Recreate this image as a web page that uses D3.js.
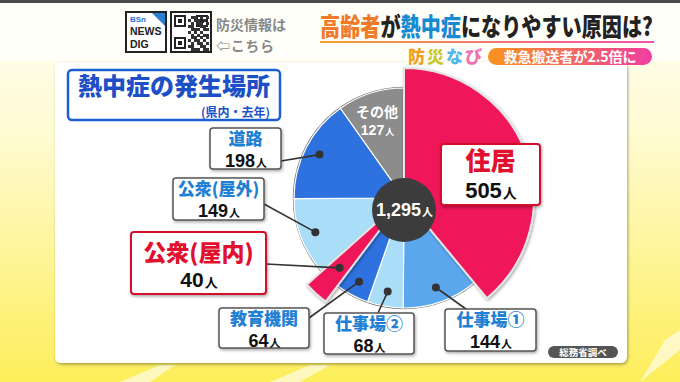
<!DOCTYPE html>
<html>
<head>
<meta charset="utf-8">
<script src="https://cdn.jsdelivr.net/npm/d3@7"></script>
<style>
  body { margin: 0; background: #fff; }
  svg { display: block; font-family: "Noto Sans CJK JP", "Noto Sans", sans-serif; }
</style>
</head>
<body>
<svg id="chart" width="680" height="382"></svg>
<script>
// data
const categories = ["住居", "仕事場①", "仕事場②", "教育機関", "公衆(屋内)", "公衆(屋外)", "道路", "その他"];
const values = [505, 144, 68, 64, 40, 149, 198, 127];
const total = 1295;
const chartTitle = "熱中症の発生場所";
const chartSub = "(県内・去年)";

const colors = ["#f0165a", "#5ba7ee", "#a9ddf8", "#2e72df", "#f0165a", "#a9ddf8", "#2e72df", "#8c8c8c"];
const highlight = ["住居", "公衆(屋内)"];

// label boxes (layout)
const boxes = {
  "住居":     { x: 441, y: 144, w: 99, h: 61, big: true },
  "仕事場①":  { x: 445, y: 309, w: 91, h: 42, ax: 466, ay: 309 },
  "仕事場②":  { x: 324, y: 313, w: 90, h: 41, ax: 378, ay: 313 },
  "教育機関": { x: 219, y: 308, w: 90, h: 40, ax: 309, ay: 318 },
  "公衆(屋内)": { x: 131, y: 232, w: 135, h: 62, ax: 266, ay: 264, red: true },
  "公衆(屋外)": { x: 173, y: 178, w: 91, h: 42, ax: 264, ay: 204 },
  "道路":     { x: 210, y: 128, w: 71, h: 41, ax: 281, ay: 161 }
};

const svg = d3.select("#chart");
const defs = svg.append("defs");

const bg = defs.append("linearGradient").attr("id", "bg").attr("x1", 0).attr("y1", 0).attr("x2", 0).attr("y2", 1);
bg.append("stop").attr("offset", "0%").attr("stop-color", "#fffef6");
bg.append("stop").attr("offset", "35%").attr("stop-color", "#fffbd2");
bg.append("stop").attr("offset", "100%").attr("stop-color", "#fdee5a");

const ul = defs.append("linearGradient").attr("id", "ul");
ul.append("stop").attr("offset", "0%").attr("stop-color", "#f5a030");
ul.append("stop").attr("offset", "100%").attr("stop-color", "#f050b0");

const pill = defs.append("linearGradient").attr("id", "pill");
pill.append("stop").attr("offset", "0%").attr("stop-color", "#f7941d");
pill.append("stop").attr("offset", "100%").attr("stop-color", "#ef3fa0");

const sh = defs.append("filter").attr("id", "sh").attr("x", "-20%").attr("y", "-20%").attr("width", "140%").attr("height", "140%");
sh.append("feDropShadow").attr("dx", 1).attr("dy", 1.5).attr("stdDeviation", 1.5).attr("flood-color", "#000").attr("flood-opacity", 0.35);

const latin = "'Liberation Sans', Arial, sans-serif";

// number followed by a smaller 人, centred on x
function countText(parent, x, y, n, size, fill) {
  const g = parent.append("g");
  const num = g.append("text").attr("y", y).attr("font-family", latin)
    .attr("font-size", size).attr("font-weight", 700).attr("fill", fill).text(n);
  const unit = g.append("text").attr("y", y).attr("font-size", Math.round(size * 0.62)).attr("font-weight", 700).attr("fill", fill).text("人");
  const w1 = num.node().getComputedTextLength(), w2 = unit.node().getComputedTextLength();
  const x0 = x - (w1 + w2) / 2;
  num.attr("x", x0);
  unit.attr("x", x0 + w1 + 1);
  return g;
}

// background
svg.append("rect").attr("width", 680).attr("height", 382).attr("fill", "url(#bg)");
svg.append("rect").attr("width", 680).attr("height", 3).attr("fill", "#4a4a4a");
svg.append("rect").attr("y", 3).attr("width", 680).attr("height", 58).attr("fill", "#fffef8");
[[120, 382, 160, 365, 175, 365, 150, 382], [270, 382, 310, 365, 330, 365, 300, 382], [640, 382, 665, 340, 680, 330, 680, 350]]
  .forEach(p => svg.append("polygon").attr("points", p.join(",")).attr("fill", "#fff").attr("opacity", 0.6));

// main panel
svg.append("rect").attr("x", 55).attr("y", 62).attr("width", 572).attr("height", 301).attr("rx", 6)
  .attr("fill", "#fff").attr("filter", "url(#sh)");

// header: logo
const logo = svg.append("g");
logo.append("rect").attr("x", 126).attr("y", 12).attr("width", 40).attr("height", 40).attr("fill", "#fff").attr("stroke", "#222").attr("stroke-width", 2);
logo.append("path").attr("d", "M152,13 L165,26 L165,13 Z").attr("fill", "#2a7fd0");
logo.append("text").attr("x", 130).attr("y", 22).attr("font-family", latin).attr("font-size", 8).attr("font-weight", 700).attr("fill", "#2a6fd0").text("BSn");
logo.append("text").attr("x", 130).attr("y", 35).attr("font-family", latin).attr("font-size", 10.5).attr("font-weight", 700).attr("fill", "#222").text("NEWS");
logo.append("text").attr("x", 130).attr("y", 48).attr("font-family", latin).attr("font-size", 10.5).attr("font-weight", 700).attr("fill", "#222").text("DIG");

// header: qr
const qr = svg.append("g").attr("transform", "translate(171,12)");
qr.append("rect").attr("width", 40).attr("height", 40).attr("fill", "#fff").attr("stroke", "#222").attr("stroke-width", 2);
[[4, 4], [26, 4], [4, 26]].forEach(([x, y]) => {
  qr.append("rect").attr("x", x).attr("y", y).attr("width", 10).attr("height", 10).attr("fill", "none").attr("stroke", "#222").attr("stroke-width", 2);
  qr.append("rect").attr("x", x + 3).attr("y", y + 3).attr("width", 4).attr("height", 4).attr("fill", "#222");
});
const qrBits = ["0110101", "1011010", "0101101", "1100110", "0111011", "1010100", "0101011"];
qrBits.forEach((row, i) => row.split("").forEach((b, j) => {
  if (b === "1") qr.append("rect").attr("x", 17 + j * 3).attr("y", 4 + i * 3).attr("width", 3).attr("height", 3).attr("fill", "#333");
  if (b === "1" && i < 5) qr.append("rect").attr("x", 17 + j * 3).attr("y", 24 + i * 3).attr("width", 3).attr("height", 3).attr("fill", "#333");
}));
svg.append("text").attr("x", 216).attr("y", 30).attr("font-size", 14).attr("font-weight", 700).attr("fill", "#888").attr("textLength", 70).text("防災情報は");
svg.append("text").attr("x", 216).attr("y", 51).attr("font-size", 14).attr("font-weight", 700).attr("fill", "#888").attr("textLength", 58).text("⇦こちら");

// header: title, squeezed horizontally like the broadcast font
const titleParts = [["高齢者", "#f07a26"], ["が", "#222"], ["熱中症", "#168ad2"], ["になりやすい原因は?", "#222"]];
const tg = svg.append("g");
let tx = 0;
titleParts.forEach(([s, f]) => {
  const t = tg.append("text").attr("x", tx).attr("y", 0).attr("font-size", 25).attr("font-weight", 900).attr("fill", f).text(s);
  tx += t.node().getComputedTextLength();
});
tg.attr("transform", `translate(320,36) scale(${333 / tx},1)`);
svg.append("rect").attr("x", 320).attr("y", 41).attr("width", 334).attr("height", 2).attr("fill", "url(#ul)");

const naviG = svg.append("g");
[["防", "#f0a020"], ["災", "#c8c830"], ["な", "#50b8e8"], ["び", "#f070b0"]].forEach(([c, f], i) =>
  naviG.append("text").attr("x", 408 + i * 19).attr("y", 63).attr("font-size", 17).attr("font-weight", 900)
    .attr("stroke", "#fff").attr("stroke-width", 0.8).attr("paint-order", "stroke").attr("fill", f).text(c));

svg.append("rect").attr("x", 488).attr("y", 48).attr("width", 164).attr("height", 17).attr("rx", 8.5).attr("fill", "url(#pill)");
svg.append("text").attr("x", 570).attr("y", 61.5).attr("text-anchor", "middle").attr("font-size", 14).attr("font-weight", 700)
  .attr("fill", "#fff").text("救急搬送者が2.5倍に");

// chart title box
svg.append("rect").attr("x", 68).attr("y", 70).attr("width", 212).attr("height", 50).attr("rx", 4)
  .attr("fill", "#fff").attr("stroke", "#1d5fd2").attr("stroke-width", 2.5);
svg.append("text").attr("x", 174).attr("y", 95).attr("text-anchor", "middle").attr("font-size", 24).attr("font-weight", 900)
  .attr("fill", "#1d4fc6").text(chartTitle);
svg.append("text").attr("x", 270).attr("y", 116.5).attr("text-anchor", "end").attr("font-size", 12).attr("font-weight", 700)
  .attr("fill", "#1d4fc6").text(chartSub);

// pie
const cx = 404, cy = 198;
const rNormal = 110, rBig = 130;
const slices = d3.pie().sort(null).value(d => d.value)
  (categories.map((c, i) => ({ name: c, value: values[i], color: colors[i] })));

const arcFor = d => d3.arc().innerRadius(0).outerRadius(highlight.includes(d.data.name) ? rBig : rNormal);

const pie = svg.append("g").attr("transform", `translate(${cx},${cy})`);
pie.append("circle").attr("r", rNormal + 0.5).attr("fill", "none").attr("stroke", "#777").attr("stroke-width", 1.5);
pie.selectAll("path.norm")
  .data(slices.filter(d => !highlight.includes(d.data.name)))
  .join("path")
  .attr("class", "norm")
  .attr("d", d => arcFor(d)(d))
  .attr("fill", d => d.data.color)
  .attr("stroke", "#fff").attr("stroke-width", 1.2);
pie.selectAll("path.hi")
  .data(slices.filter(d => highlight.includes(d.data.name)))
  .join("path")
  .attr("class", "hi")
  .attr("d", d => arcFor(d)(d))
  .attr("fill", d => d.data.color)
  .attr("stroke", "#e4e4e4").attr("stroke-width", 2)
  .attr("filter", "url(#sh)");

// その他 label inside its slice
const other = slices[7];
pie.append("text").attr("x", -27).attr("y", -81).attr("text-anchor", "middle").attr("font-size", 14).attr("font-weight", 700)
  .attr("fill", "#fff").text(other.data.name);
countText(pie, -27, -63, other.data.value, 14, "#fff");

// leader lines and dots
const dotArc = d3.arc().innerRadius(95).outerRadius(95);
slices.forEach(d => {
  const b = boxes[d.data.name];
  if (!b || b.big) return;
  const [dx, dy] = dotArc.centroid(d);
  svg.append("line").attr("x1", b.ax).attr("y1", b.ay).attr("x2", cx + dx).attr("y2", cy + dy)
    .attr("stroke", "#333").attr("stroke-width", 1.6);
  svg.append("circle").attr("cx", cx + dx).attr("cy", cy + dy).attr("r", 4).attr("fill", "#333");
});

// center circle
svg.append("circle").attr("cx", cx).attr("cy", cy + 12).attr("r", 32).attr("fill", "#3c3c3c");
countText(svg, cx, cy + 18, d3.format(",")(total), 18, "#fff");

// label boxes
slices.forEach(d => {
  const b = boxes[d.data.name];
  if (!b) return;
  const red = b.big || b.red;
  const g = svg.append("g");
  g.append("rect").attr("x", b.x).attr("y", b.y).attr("width", b.w).attr("height", b.h).attr("rx", 3)
    .attr("fill", "#fff").attr("stroke", red ? "#d4102c" : "#555").attr("stroke-width", red ? 2 : 1.5)
    .attr("filter", "url(#sh)");
  const mx = b.x + b.w / 2;
  const nameSize = b.big ? 25 : (b.red ? 23 : 17);
  const numSize = b.big ? 22 : (b.red ? 21 : 18);
  g.append("text").attr("x", mx).attr("y", b.y + (b.big ? 26 : b.red ? 29 : 17))
    .attr("text-anchor", "middle").attr("font-size", nameSize).attr("font-weight", 900)
    .attr("fill", red ? "#e0102e" : "#1f80d4").text(d.data.name);
  countText(g, mx, b.y + (b.big ? 54 : b.red ? 55 : 38.5), d.data.value, numSize, "#111");
});

// source pill
svg.append("rect").attr("x", 548).attr("y", 346).attr("width", 70).attr("height", 12).attr("rx", 6).attr("fill", "#555");
svg.append("text").attr("x", 583).attr("y", 355.5).attr("text-anchor", "middle").attr("font-size", 9.5).attr("font-weight", 700)
  .attr("fill", "#fff").text("総務省調べ");
</script>
</body>
</html>
